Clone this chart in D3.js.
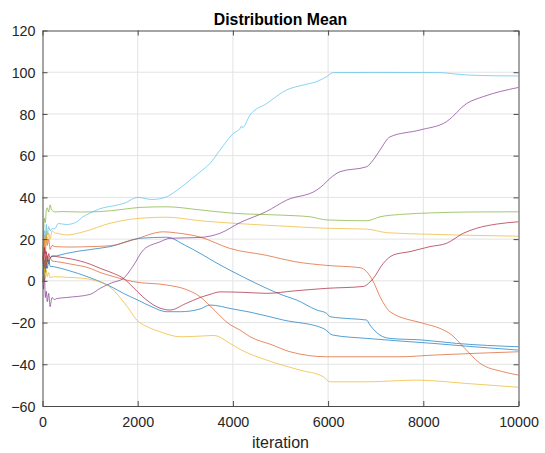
<!DOCTYPE html>
<html><head><meta charset="utf-8">
<script src="https://cdn.jsdelivr.net/npm/d3@7"></script>
<style>body{margin:0;background:#fff}svg{display:block}text{font-family:"Liberation Sans",Arial,Helvetica,sans-serif}</style>
</head><body><svg id="c" width="545" height="453"></svg>
<script>
const title = "Distribution Mean";
const xLabel = "iteration";
const xTicks = [0, 2000, 4000, 6000, 8000, 10000];
const yTicks = [-60, -40, -20, 0, 20, 40, 60, 80, 100, 120];
const seriesNames = ["blueA","orangeA","yellowA","purple","green","cyan","darkred","blueB","orangeB","yellowB"];
const seriesColors = ["#0072BD","#D95319","#EDB120","#7E2F8E","#77AC30","#4DBEEE","#A2142F","#0072BD","#D95319","#EDB120"];

const blueA = [[0,3],[20,8],[40,0],[60,10],[80,6],[100,12],[130,8],[160,11],[200,11.6],[300,12],[510,13.2],[1000,15],[1420,16.4],[2050,20.4],[2610,20.9],[3000,17],[3310,13.2],[3700,8],[4220,1.8],[4700,-3.5],[5060,-7],[5340,-9.2],[5760,-14],[5970,-15.6],[6040,-17.2],[6500,-18.2],[6810,-18.8],[6880,-21.2],[7090,-26],[7300,-27.6],[8000,-28.4],[8700,-30],[10000,-31.6]];
const orangeA = [[0,14],[20,10],[40,20],[60,13],[80,22],[100,17],[130,20],[160,15],[200,17],[260,16.4],[600,16.2],[1000,16.4],[1420,16.8],[1900,19.6],[2540,23.5],[2800,23],[3310,21],[3940,15.5],[4710,12.2],[5300,9.2],[5970,7.4],[6670,6.3],[6810,4.4],[6950,-0.4],[7090,-7.6],[7200,-12],[7300,-14.8],[8000,-20.4],[8350,-22.8],[8600,-26],[8840,-31.6],[9190,-39.5],[9680,-43.6],[10000,-45.2]];
const yellowA = [[0,12],[20,18],[40,22],[60,15],[80,24],[100,18],[130,23],[160,20],[200,24],[250,23],[300,22.8],[510,22],[860,23.5],[1420,27.6],[2050,30],[2610,30.5],[3310,28.8],[4010,27.6],[5000,26.3],[5970,25.2],[6810,24.8],[7230,23.1],[8000,22.4],[9000,21.8],[10000,21.4]];
const purple = [[0,2],[20,-4],[40,3],[60,-8],[80,-5],[100,-10],[130,-6],[160,-12.4],[180,-10],[200,-8],[250,-9],[300,-8.5],[500,-8],[1000,-6.5],[1210,-3.6],[1450,-1],[1700,1.2],[1900,7],[2120,14.8],[2470,18.7],[2680,20.4],[3310,20.8],[3730,22.8],[4150,27.9],[4710,33.3],[5130,38.7],[5760,43.5],[5900,46],[6040,49.1],[6250,52.3],[6810,54.7],[6950,58],[7090,62.7],[7300,69],[7930,72.3],[8490,76.3],[8910,85],[9260,88.3],[10000,92.7]];
const green = [[0,15],[20,22],[40,30],[60,28],[80,34],[100,35],[130,33],[160,36.4],[190,34],[220,33.5],[260,33],[400,33.2],[800,33],[1210,33.2],[1700,34.3],[2050,35.2],[2610,35.5],[3310,34],[4010,32.4],[5000,31.5],[5620,30.7],[5970,29.2],[6810,28.8],[7090,30.7],[7500,31.8],[8210,32.6],[9000,33],[10000,33.1]];
const cyan = [[0,10],[20,18],[40,24],[60,20],[80,27],[100,22],[130,26],[160,24],[200,25],[260,25],[330,27.5],[500,27],[700,28],[850,30.7],[1000,32.5],[1200,34.5],[1500,36],[1730,37.3],[2000,40],[2300,39],[2610,40.3],[2800,43],[3100,48.3],[3300,52],[3520,56.3],[3730,62.7],[4010,70.7],[4150,73],[4180,74.2],[4200,73.4],[4360,79.5],[4710,85],[5130,91.5],[5500,94],[5760,95.5],[5970,97.9],[6110,99.8],[7000,99.9],[8350,99.8],[8650,99.2],[8910,98.7],[9500,98.3],[10000,98.2]];
const darkred = [[0,12],[20,8],[40,16],[60,10],[80,14],[100,9],[130,13],[160,11],[200,12],[300,11.6],[600,10.5],[1000,8],[1210,6],[1500,3.5],[1700,1.2],[1900,-3],[2100,-7.5],[2400,-12.4],[2680,-14],[3000,-11],[3310,-8],[3520,-6.5],[3730,-5.3],[4200,-5.5],[4710,-6],[5300,-4.8],[5970,-3.6],[6740,-2.7],[6850,-1.2],[6950,1.2],[7160,8.4],[7370,12.4],[7720,14],[8140,16.4],[8490,18],[8840,22.8],[9120,25.2],[9540,27.2],[10000,28.3]];
const blueB = [[0,5],[20,0],[40,10],[60,4],[80,9],[100,6],[130,10],[160,7],[230,6.8],[510,5.2],[1000,1.5],[1210,-0.4],[1500,-3.5],[1700,-6],[2000,-9.2],[2300,-12.5],[2610,-14.8],[2900,-14.8],[3310,-13.5],[3520,-11.6],[4000,-13.5],[4360,-15],[5060,-18.8],[5900,-22.8],[6100,-26],[6810,-27.6],[8210,-30],[9000,-31.5],[10000,-33.2]];
const orangeB = [[0,8],[20,14],[40,5],[60,11],[80,7],[100,12],[130,9],[160,11],[200,9.5],[300,9.2],[600,8],[1000,6],[1210,4],[1500,2],[1700,0.7],[1910,-0.4],[2610,-2],[3000,-4],[3310,-7.6],[3520,-12],[3940,-21],[4150,-23.6],[4360,-26.8],[4800,-30.5],[5200,-34],[5970,-36.4],[7510,-36.4],[8210,-35.6],[10000,-34]];
const yellowB = [[0,2],[20,-2],[40,6],[60,1],[80,5.2],[100,2],[130,4],[160,1.5],[230,2],[510,1.7],[860,1.2],[1200,-0.5],[1420,-3],[1630,-8],[1800,-13],[1980,-18.8],[2200,-22],[2470,-24.4],[2890,-26.8],[3310,-26.5],[3600,-26.2],[3940,-30],[4180,-33.2],[4710,-38],[5410,-42.8],[5900,-46],[6040,-48.4],[6810,-48.4],[7860,-47.6],[8910,-49.2],[10000,-51]];
const seriesData = [blueA, orangeA, yellowA, purple, green, cyan, darkred, blueB, orangeB, yellowB];

const L = 42.5, R = 518.5, T = 30.5, B = 406;
const svg = d3.select("#c");
const x = d3.scaleLinear().domain([0, 10000]).range([L, R]);
const y = d3.scaleLinear().domain([-60, 120]).range([B, T]);
const axisColor = "#4a4a4a", textColor = "#262626";

// grid
const g = svg.append("g");
g.selectAll(".gx").data(xTicks.slice(1, -1)).enter().append("line")
  .attr("x1", d => x(d)).attr("x2", d => x(d)).attr("y1", T).attr("y2", B)
  .attr("stroke", "#e3e3e3").attr("stroke-width", 1);
g.selectAll(".gy").data(yTicks.slice(1, -1)).enter().append("line")
  .attr("y1", d => y(d)).attr("y2", d => y(d)).attr("x1", L).attr("x2", R)
  .attr("stroke", "#e3e3e3").attr("stroke-width", 1);

// lines
const line = d3.line().x(d => x(d[0])).y(d => y(d[1])).curve(d3.curveMonotoneX);
svg.append("clipPath").attr("id", "clp").append("rect")
  .attr("x", L).attr("y", T).attr("width", R - L).attr("height", B - T);
svg.append("g").attr("clip-path", "url(#clp)").selectAll("path").data(seriesData).enter().append("path")
  .attr("d", line).attr("fill", "none")
  .attr("stroke", (d, i) => seriesColors[i]).attr("stroke-width", 0.9).attr("stroke-opacity", 0.75)
  .attr("stroke-linejoin", "round");

// axes (box with inward ticks)
const fmt = d3.format("d");
function style(sel) {
  sel.selectAll("path").attr("stroke", axisColor).attr("stroke-width", 1);
  sel.selectAll("line").attr("stroke", axisColor).attr("stroke-width", 1);
  sel.selectAll("text").attr("fill", textColor).attr("font-size", "14.3px")
    .attr("font-family", '"Liberation Sans",Arial,Helvetica,sans-serif');
}
const gxb = svg.append("g").attr("transform", `translate(0,${B})`)
  .call(d3.axisBottom(x).tickValues(xTicks).tickFormat(fmt).tickSizeInner(-5).tickSizeOuter(0)).call(style);
gxb.selectAll("text").attr("dy", null).attr("y", 21);
svg.append("g").attr("transform", `translate(0,${T})`)
  .call(d3.axisTop(x).tickValues(xTicks).tickFormat("").tickSizeInner(-5).tickSizeOuter(0)).call(style);
const gyl = svg.append("g").attr("transform", `translate(${L},0)`)
  .call(d3.axisLeft(y).tickValues(yTicks).tickFormat(fmt).tickSizeInner(-5).tickSizeOuter(0)).call(style);
gyl.selectAll("text").attr("x", -7).attr("dy", "0.36em");
svg.append("g").attr("transform", `translate(${R},0)`)
  .call(d3.axisRight(y).tickValues(yTicks).tickFormat("").tickSizeInner(-5).tickSizeOuter(0)).call(style);

// title & label
svg.append("text").attr("x", (L + R) / 2).attr("y", 25).attr("text-anchor", "middle")
  .attr("font-weight", "bold").attr("font-size", "15.8px").attr("fill", "#000").text(title);
svg.append("text").attr("x", (L + R) / 2).attr("y", 448).attr("text-anchor", "middle")
  .attr("font-size", "16px").attr("fill", textColor).text(xLabel);
</script></body></html>
